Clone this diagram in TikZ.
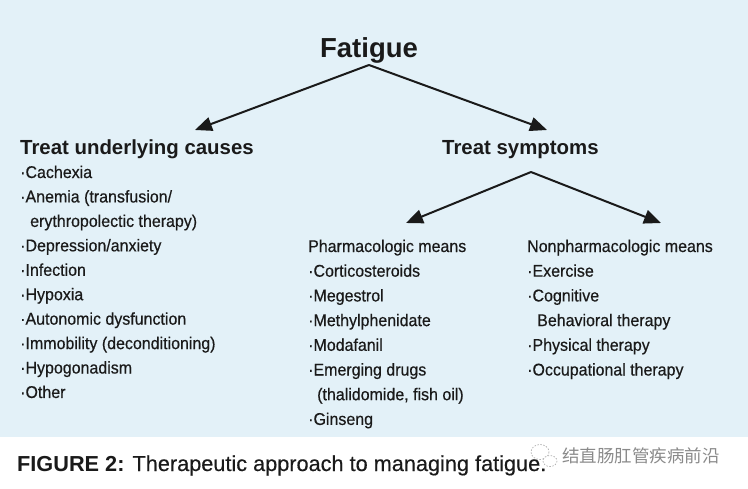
\documentclass[tikz,border=0pt]{standalone}
\usepackage{fontspec}
\setmainfont{Liberation Sans}
\newfontfamily\cond[FakeStretch=0.94,FakeBold=0.5]{Liberation Sans}
\newfontfamily\capfont[FakeBold=0.4]{Liberation Sans}
\newfontfamily\cjk{Noto Sans CJK SC}
\usetikzlibrary{arrows.meta}
\definecolor{bgblue}{HTML}{E3F1F8}
\definecolor{ink}{HTML}{1A1A1A}
\definecolor{wmgray}{HTML}{8A8A8A}
\tikzset{
  item/.style={anchor=base west, inner sep=0pt, text=ink, font=\cond\fontsize{17}{20}\selectfont},
  head/.style={anchor=base, inner sep=0pt, text=ink, font=\bfseries\fontsize{20.4}{24}\selectfont},
  arr/.style={draw=ink, line width=2pt, -{Triangle[length=17pt,width=14pt]}},
}
\begin{document}
\begin{tikzpicture}[x=1pt,y=-1pt]
\useasboundingbox (0,0) rectangle (748,488);
\fill[bgblue] (0,0) rectangle (748,437);
% title
\node[anchor=base, inner sep=0pt, text=ink, font=\bfseries\fontsize{27.5}{30}\selectfont] (fat) at (369,57) {Fatigue};
\node[head, anchor=base west] (causes) at (20,154) {Treat underlying causes};
\node[head, anchor=base west] (sympt) at (442,154) {Treat symptoms};
\coordinate (apexA) at (369,65);
\coordinate (tipA1) at (195,130);
\coordinate (tipA2) at (547,130);
\draw[arr] (apexA) -- (tipA1);
\draw[arr] (apexA) -- (tipA2);
\coordinate (apexB) at (531,172);
\coordinate (tipB1) at (406,223);
\coordinate (tipB2) at (661,223);
\draw[arr] (apexB) -- (tipB1);
\draw[arr] (apexB) -- (tipB2);
% left list
\foreach \t/\dx [count=\i from 0] in {{·Cachexia}/0,{·Anemia (transfusion/}/0,{erythropolectic therapy)}/10,{·Depression/anxiety}/0,{·Infection}/0,{·Hypoxia}/0,{·Autonomic dysfunction}/0,{·Immobility (deconditioning)}/0,{·Hypogonadism}/0,{·Other}/0}
  \node[item] (L\i) at (20+\dx,178+\i*24.44) {\t};
% pharmacologic list
\foreach \t/\dx [count=\i from 0] in {{Pharmacologic means}/0,{·Corticosteroids}/0,{·Megestrol}/0,{·Methylphenidate}/0,{·Modafanil}/0,{·Emerging drugs}/0,{(thalidomide, fish oil)}/9,{·Ginseng}/0}
  \node[item] (P\i) at (308+\dx,252+\i*24.7) {\t};
% nonpharmacologic list
\foreach \t/\dx [count=\i from 0] in {{Nonpharmacologic means}/0,{·Exercise}/0,{·Cognitive}/0,{Behavioral therapy}/10,{·Physical therapy}/0,{·Occupational therapy}/0}
  \node[item] (N\i) at (527+\dx,252+\i*24.7) {\t};
% caption
\node[anchor=base west, inner sep=0pt, text=ink, font=\fontsize{21.7}{24}\selectfont] (cap) at (17,471) {\textbf{FIGURE 2:} {\capfont Therapeutic approach to managing fatigue.}};
% watermark
\begin{scope}[draw=wmgray!70, line width=0.7pt, dash pattern=on 1.5pt off 1.5pt]
  \draw (540,452) ellipse (9 and 7.5);
  \draw[fill=white] (550,461) ellipse (7 and 5.5);
\end{scope}
\node[anchor=west, inner sep=0pt, text=wmgray, font=\cjk\fontsize{17.5}{20}\selectfont] (wm) at (562,456) {结直肠肛管疾病前沿};
\end{tikzpicture}
\end{document}
